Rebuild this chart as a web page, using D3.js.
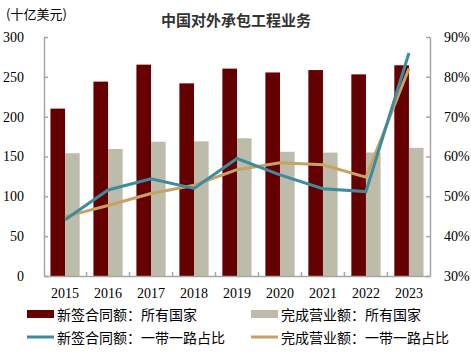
<!DOCTYPE html>
<html>
<head>
<meta charset="utf-8">
<script src="https://cdn.jsdelivr.net/npm/d3@7"></script>
<style>
  body { margin: 0; background: #fff; }
  svg { display: block; }
</style>
</head>
<body>
<svg id="chart" width="471" height="354"></svg>
<script>
const years = ["2015", "2016", "2017", "2018", "2019", "2020", "2021", "2022", "2023"];
const newContracts = [210.1, 244.0, 265.3, 241.8, 260.3, 255.5, 258.5, 253.1, 264.5];
const revenue = [154.1, 159.4, 168.6, 169.0, 172.9, 155.9, 154.9, 155.0, 160.9];
const briNewShare = [44.1, 51.6, 54.4, 52.0, 59.5, 55.4, 51.9, 51.2, 86.0];
const briRevShare = [44.9, 47.7, 50.7, 52.8, 56.7, 58.4, 57.9, 54.8, 82.1];
const leftTicks = [0, 50, 100, 150, 200, 250, 300];
const rightTicks = [30, 40, 50, 60, 70, 80, 90];

const COLORS = { dark: "#640000", grey: "#bdbbaa", blue: "#3e8b9e", tan: "#c6a363", axis: "#a6a6a6" };
const NUM_FONT = "'Liberation Serif', 'Times New Roman', serif";
const CJK_FONT = "'Noto Sans CJK SC', sans-serif";

const margin = { left: 44, right: 41, top: 37, bottom: 78 };
const width = 471, height = 354;
const svg = d3.select("#chart");

const x0 = d3.scaleBand().domain(years)
  .range([margin.left, width - margin.right])
  .paddingInner(0.32).paddingOuter(0.15);
const x1 = d3.scaleBand().domain(["new", "rev"]).range([0, x0.bandwidth()]);
const yL = d3.scaleLinear().domain([0, 300]).range([height - margin.bottom, margin.top]);
const yR = d3.scaleLinear().domain([30, 90]).range([height - margin.bottom, margin.top]);

// bars
const g = svg.append("g");
years.forEach((yr, i) => {
  g.append("rect")
    .attr("x", x0(yr) + x1("new")).attr("width", x1.bandwidth())
    .attr("y", yL(newContracts[i])).attr("height", yL(0) - yL(newContracts[i]))
    .attr("fill", COLORS.dark);
  g.append("rect")
    .attr("x", x0(yr) + x1("rev")).attr("width", x1.bandwidth())
    .attr("y", yL(revenue[i])).attr("height", yL(0) - yL(revenue[i]))
    .attr("fill", COLORS.grey);
});

// axes
const left = svg.append("g").attr("transform", `translate(${margin.left},0)`)
  .call(d3.axisLeft(yL).tickValues(leftTicks).tickSizeInner(-4).tickSizeOuter(0).tickPadding(20));
const right = svg.append("g").attr("transform", `translate(${width - margin.right},0)`)
  .call(d3.axisRight(yR).tickValues(rightTicks).tickSizeInner(-4).tickSizeOuter(0)
    .tickPadding(14).tickFormat(d => d + "%"));
const bottom = svg.append("g").attr("transform", `translate(0,${yL(0)})`)
  .call(d3.axisBottom(x0).tickSize(0).tickPadding(12));

[left, right, bottom].forEach(a => {
  a.select(".domain").attr("stroke", COLORS.axis).attr("stroke-width", 1.5);
  a.selectAll(".tick line").attr("stroke", COLORS.axis).attr("stroke-width", 1.5);
  a.selectAll("text").attr("font-family", NUM_FONT).attr("font-size", 14).attr("fill", "#000");
});
left.selectAll("text").attr("text-anchor", "end").attr("dx", 0);
right.selectAll("text").attr("text-anchor", "start");

// small category separator ticks on the x axis
const step = x0.step();
for (let i = 1; i < years.length; i++) {
  const xs = x0(years[0]) - step * x0.paddingInner() / 2 + step * i;
  bottom.append("line").attr("x1", xs).attr("x2", xs).attr("y1", 0).attr("y2", -4)
    .attr("transform", `translate(0,0)`)
    .attr("stroke", COLORS.axis).attr("stroke-width", 1.5);
}
bottom.selectAll(".tick text").attr("dx", 0);

// lines
const cx = yr => x0(yr) + x0.bandwidth() / 2;
const line = d3.line().x(d => cx(d[0])).y(d => yR(d[1]));
svg.append("path").datum(years.map((y, i) => [y, briRevShare[i]]))
  .attr("d", line).attr("fill", "none").attr("stroke", COLORS.tan).attr("stroke-width", 3);
svg.append("path").datum(years.map((y, i) => [y, briNewShare[i]]))
  .attr("d", line).attr("fill", "none").attr("stroke", COLORS.blue).attr("stroke-width", 3);

// titles
svg.append("text").attr("x", 236).attr("y", 26).attr("text-anchor", "middle")
  .attr("font-family", CJK_FONT).attr("font-weight", "bold").attr("font-size", 15)
  .attr("fill", "#333").text("中国对外承包工程业务");
svg.append("text").attr("x", 6).attr("y", 19)
  .attr("font-family", CJK_FONT).attr("font-size", 13).attr("fill", "#000").text("(十亿美元)");

// legend
const legend = [
  { label: "新签合同额：所有国家", type: "rect", color: COLORS.dark, x: 27, y: 314 },
  { label: "完成营业额：所有国家", type: "rect", color: COLORS.grey, x: 251, y: 314 },
  { label: "新签合同额：一带一路占比", type: "line", color: COLORS.blue, x: 27, y: 337 },
  { label: "完成营业额：一带一路占比", type: "line", color: COLORS.tan, x: 251, y: 337 }
];
legend.forEach(d => {
  if (d.type === "rect") {
    svg.append("rect").attr("x", d.x).attr("y", d.y - 4).attr("width", 27).attr("height", 8).attr("fill", d.color);
  } else {
    svg.append("line").attr("x1", d.x).attr("x2", d.x + 27).attr("y1", d.y).attr("y2", d.y)
      .attr("stroke", d.color).attr("stroke-width", 3);
  }
  svg.append("text").attr("x", d.x + 30).attr("y", d.y).attr("dominant-baseline", "central")
    .attr("font-family", CJK_FONT).attr("font-size", 14).attr("fill", "#000").text(d.label);
});
</script>
</body>
</html>
